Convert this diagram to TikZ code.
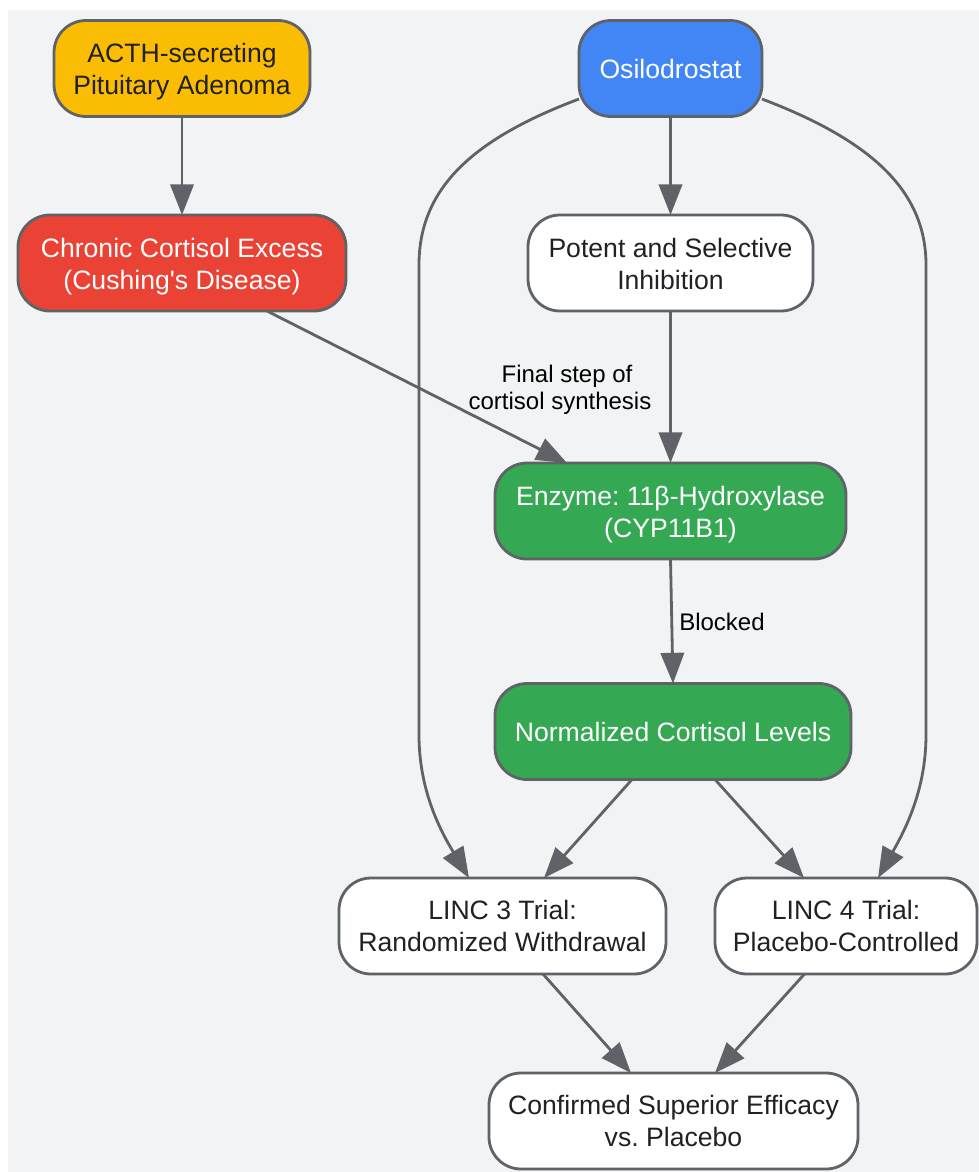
\documentclass[tikz,border=0pt]{standalone}
\usepackage{fontspec}
\setmainfont{Liberation Sans}
\newfontfamily\plainapos{Liberation Sans}
\frenchspacing
\usetikzlibrary{arrows.meta,calc}
\def\px{0.75pt}
\definecolor{bgc}{HTML}{F1F3F4}
\definecolor{linec}{HTML}{5F6368}
\definecolor{inkc}{HTML}{202124}
\definecolor{yel}{HTML}{FBBC04}
\definecolor{redc}{HTML}{EA4335}
\definecolor{blu}{HTML}{4285F4}
\definecolor{grn}{HTML}{34A853}
\tikzset{
  box/.style={draw=linec,line width=2.1pt,rounded corners=24pt,align=center,inner sep=0pt,outer sep=0pt,
    text=inkc,fill=white,font=\fontsize{19.95}{24}\selectfont,minimum height=96*\px},
  twoline/.style={box,text height=45pt,text depth=6pt},
  twolineup/.style={box,text height=43.5pt,text depth=6pt},
  light/.style={text=white},
  flow/.style={draw=linec,line width=2.1pt,-{Triangle[length=23pt,width=17.5pt]}},
  lab/.style={align=center,text=black,inner sep=0pt,font=\fontsize{18}{20.3}\selectfont},
}
\begin{document}
\begin{tikzpicture}[x=0.75pt,y=-0.75pt]
\useasboundingbox (0,0) rectangle (979,1172);
\fill[bgc] (8,10) rectangle (979,1172);
\node[twoline,fill=yel,minimum width=256*\px] (A) at (182,68.5) {ACTH-secreting\\Pituitary Adenoma};
\node[twoline,fill=redc,light,minimum width=328*\px] (B) at (182,263) {Chronic Cortisol Excess\\(Cushing{\plainapos '}s Disease)};
\node[box,fill=blu,light,minimum width=183*\px] (O) at (670.5,68.5) {Osilodrostat};
\node[twoline,minimum width=285*\px] (P) at (670.5,263) {Potent and Selective\\Inhibition};
\node[twoline,fill=grn,light,minimum width=351*\px] (E) at (670.5,511) {Enzyme: 11β-Hydroxylase\\(CYP11B1)};
\node[box,fill=grn,light,minimum width=356*\px] (N) at (673,731.5) {Normalized Cortisol Levels};
\node[twolineup,minimum width=327*\px] (L3) at (502.5,926) {LINC 3 Trial:\\Randomized Withdrawal};
\node[twolineup,minimum width=262*\px] (L4) at (846,926) {LINC 4 Trial:\\Placebo-Controlled};
\node[twolineup,minimum width=369*\px] (C) at (673.5,1121) {Confirmed Superior Efficacy\\vs. Placebo};
\draw[flow] (A) -- (B);
\draw[flow] (O) -- (P);
\draw[flow] (P) -- (E);
\draw[flow] (E.south) -- (N.north);
\draw[flow] ($(B.south)+(85,0)$) -- ($(E.north)+(-103.5,0)$);
\draw[flow] ($(N.south)+(-41,0)$) -- ($(L3.north)+(41.5,0)$);
\draw[flow] ($(N.south)+(42,0)$) -- ($(L4.north)+(-42,0)$);
\draw[flow] ($(L3.south)+(40.5,0)$) -- ($(C.north)+(-42.5,0)$);
\draw[flow] ($(L4.south)+(-41.5,0)$) -- ($(C.north)+(41.5,0)$);
\draw[flow] ($(O.west)+(0,30.5)$) .. controls (470,140) and (419,190) .. (419,265) -- (419,735) .. controls (419,790) and (440,830) .. ($(L3.north)+(-33.5,0)$);
\draw[flow] ($(O.east)+(0,30.5)$) .. controls (870,140) and (926,190) .. (926,265) -- (926,735) .. controls (926,790) and (905,830) .. ($(L4.north)+(32,0)$);
\node[lab] (l1) at (560,390) {\hspace*{10.5pt}Final step of\\cortisol synthesis};
\node[lab] (l2) at (722,622) {Blocked};
\end{tikzpicture}
\end{document}
